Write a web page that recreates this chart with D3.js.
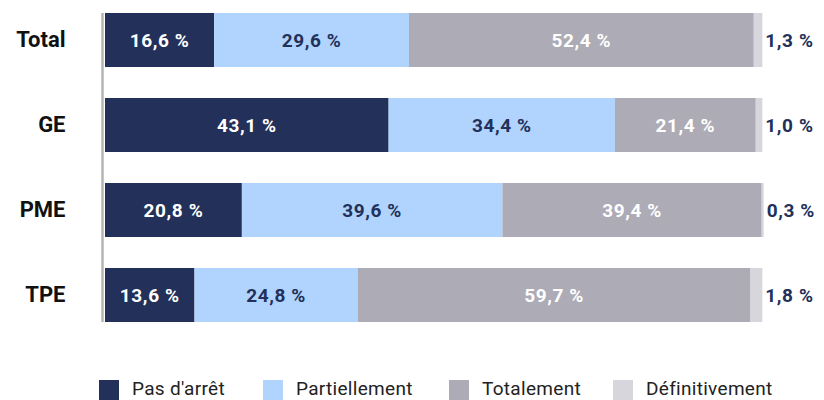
<!DOCTYPE html>
<html>
<head>
<meta charset="utf-8">
<script src="https://cdn.jsdelivr.net/npm/d3@7/dist/d3.min.js"></script>
<style>
  body { margin: 0; background: #fff; }
  text { font-family: Roboto, "DejaVu Sans", sans-serif; }
</style>
</head>
<body>
<div class="chart"></div>
<script>
// data
var categories = ["Total", "GE", "PME", "TPE"];
var seriesNames = ["Pas d'arrêt", "Partiellement", "Totalement", "Définitivement"];
var pasArret = [16.6, 43.1, 20.8, 13.6];
var partiellement = [29.6, 34.4, 39.6, 24.8];
var totalement = [52.4, 21.4, 39.4, 59.7];
var definitivement = [1.3, 1.0, 0.3, 1.8];

var colors = ["#22305a", "#b0d4fd", "#adabb6", "#d7d6dc"];
var labelColors = ["#fff", "#22305a", "#fff", "#22305a"];

var width = 824, height = 400;

var svg = d3.select("div.chart").append("svg")
    .attr("width", width)
    .attr("height", height);

var rows = categories.map(function(c, i) {
    return {
        cat: c,
        "Pas d'arrêt": pasArret[i],
        "Partiellement": partiellement[i],
        "Totalement": totalement[i],
        "Définitivement": definitivement[i]
    };
});

var stack = d3.stack().keys(seriesNames);
var layers = stack(rows);

var xScale = d3.scaleLinear().domain([0, 100]).range([105, 763]);
var yScale = d3.scaleBand().domain(categories).range([0, 335]).paddingInner(0.3647).paddingOuter(0.153);

// bars
var layer = svg.selectAll(".layer")
    .data(layers)
    .enter().append("g")
    .attr("class", "layer")
    .attr("fill", function(d, i) { return colors[i]; });

layer.selectAll("rect")
    .data(function(d) { return d; })
    .enter().append("rect")
    .attr("x", function(d) { return xScale(d[0]); })
    .attr("y", function(d) { return yScale(d.data.cat); })
    .attr("width", function(d) { return xScale(d[1]) - xScale(d[0]); })
    .attr("height", yScale.bandwidth());

// value labels
var fmt = function(v) { return v.toFixed(1).replace(".", ",") + " %"; };

layers.forEach(function(l, i) {
    svg.append("g").selectAll("text")
        .data(l)
        .enter().append("text")
        .attr("x", function(d) {
            return i === 3 ? xScale(d[1]) + 3 : (xScale(d[0]) + xScale(d[1])) / 2;
        })
        .attr("y", function(d) { return yScale(d.data.cat) + yScale.bandwidth() / 2; })
        .attr("dy", "0.36em")
        .style("text-anchor", i === 3 ? "start" : "middle")
        .style("font-size", "19px")
        .style("font-weight", "bold")
        .style("letter-spacing", "0.6px")
        .attr("fill", labelColors[i])
        .text(function(d) { return fmt(d[1] - d[0]); });
});

// axis line on the left
var yAxis = d3.axisLeft(yScale).tickSize(0).tickPadding(37);
var axisG = svg.append("g")
    .attr("transform", "translate(102.5,0)")
    .call(yAxis);
axisG.select(".domain")
    .attr("d", "M0," + yScale(categories[0]) + "V" + (yScale(categories[3]) + yScale.bandwidth()))
    .attr("stroke", "#b5b5b5")
    .attr("stroke-width", 2.5);
axisG.selectAll(".tick text")
    .style("font-family", "Roboto, sans-serif")
    .style("font-size", "22px")
    .style("font-weight", "bold")
    .attr("fill", "#111");

// legend
var legendX = [99, 263, 449, 613];
var legend = svg.append("g").selectAll("g")
    .data(seriesNames)
    .enter().append("g")
    .attr("transform", function(d, i) { return "translate(" + legendX[i] + ",380)"; });

legend.append("rect")
    .attr("width", 20)
    .attr("height", 20)
    .attr("fill", function(d, i) { return colors[i]; });

legend.append("text")
    .attr("x", 33)
    .attr("y", 15)
    .style("font-size", "19px")
    .style("letter-spacing", "0.3px")
    .attr("fill", "#222")
    .text(function(d) { return d; });
</script>
</body>
</html>
